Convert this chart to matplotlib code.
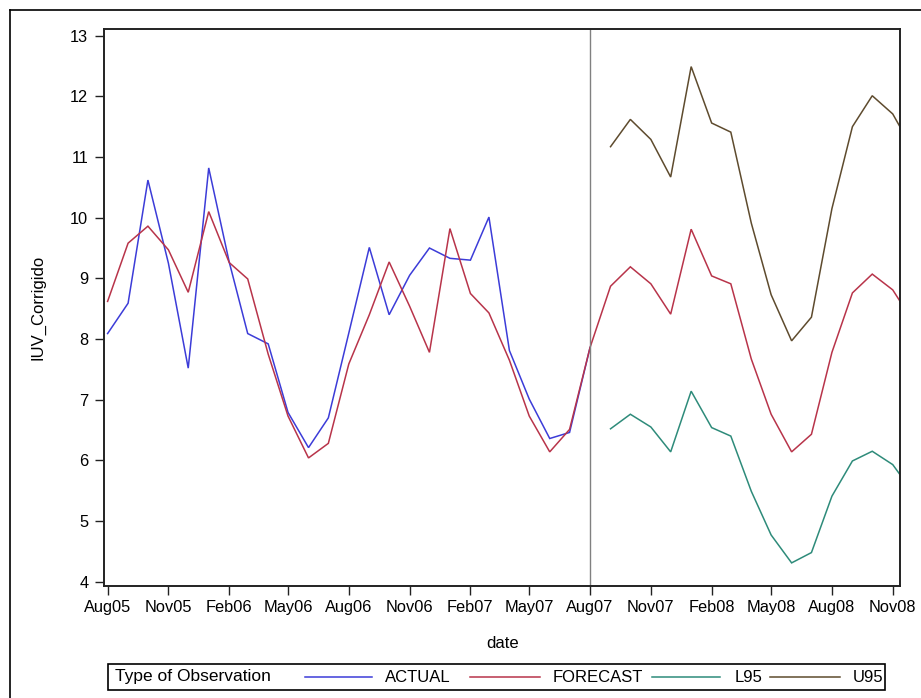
import matplotlib
matplotlib.use("Agg")
import matplotlib.pyplot as plt
import matplotlib.dates as mdates
from matplotlib.lines import Line2D
from matplotlib.patches import Rectangle
import pandas as pd
import numpy as np

plt.rcParams['font.family'] = ['Liberation Sans', 'DejaVu Sans']

# ---- data ----
months = pd.date_range("2005-08-01", "2008-12-01", freq="MS")
actual = [8.09, 8.59, 10.62, 9.25, 7.52, 10.82, 9.27, 8.09, 7.92, 6.79, 6.21, 6.70,
          8.10, 9.51, 8.40, 9.05, 9.50, 9.33, 9.30, 10.01, 7.81, 7.01, 6.36, 6.46, 7.86]
forecast = [8.62, 9.58, 9.86, 9.47, 8.77, 10.10, 9.26, 8.99, 7.75, 6.73, 6.04, 6.28,
            7.59, 8.40, 9.27, 8.54, 7.78, 9.82, 8.75, 8.43, 7.65, 6.73, 6.14, 6.51, 7.86,
            8.87, 9.19, 8.91, 8.41, 9.81, 9.04, 8.91, 7.67, 6.76, 6.14, 6.43, 7.78,
            8.76, 9.07, 8.81, 8.30]
l95 = [6.52, 6.76, 6.55, 6.14, 7.14, 6.54, 6.40, 5.49, 4.77, 4.31, 4.48, 5.41,
       5.99, 6.15, 5.93, 5.48]
u95 = [11.17, 11.62, 11.29, 10.67, 12.49, 11.56, 11.41, 9.91, 8.73, 7.97, 8.36, 10.15,
       11.50, 12.01, 11.71, 11.13]
series_names = ["ACTUAL", "FORECAST", "L95", "U95"]
colors = ["#3c3cd8", "#b8344a", "#2e8b7a", "#5e4b2e"]
yticks = [4, 5, 6, 7, 8, 9, 10, 11, 12, 13]
xtick_dates = pd.date_range("2005-08-01", "2008-11-01", freq="3MS")
forecast_start = pd.Timestamp("2007-08-01")
legend_title = "Type of Observation"

W, H = 921, 698
fig = plt.figure(figsize=(W / 100, H / 100), dpi=100)

def fx(x):
    return x / W

def fy(y):
    return 1 - y / H

L, R, T, B = 104.3, 900.0, 29.3, 585.7
ax = fig.add_axes([fx(L), fy(B), (R - L) / W, (B - T) / H])

n_act = len(actual)
n_f = len(forecast)
ax.plot(months[:n_act], actual, color=colors[0], lw=1.1, solid_joinstyle='miter')
ax.plot(months[:n_f], forecast, color=colors[1], lw=1.1, solid_joinstyle='miter')
ax.plot(months[n_f - len(l95):n_f], l95, color=colors[2], lw=1.1, solid_joinstyle='miter')
ax.plot(months[n_f - len(u95):n_f], u95, color=colors[3], lw=1.1, solid_joinstyle='miter')
ax.axvline(forecast_start, color="#808080", lw=1.0)

ax.set_xlim(pd.Timestamp("2005-07-27"), pd.Timestamp("2008-11-12"))
ax.set_ylim(3.934, 13.105)
ax.set_yticks(yticks)
ax.set_xticks(xtick_dates)
ax.xaxis.set_major_formatter(mdates.DateFormatter("%b%y"))

for s in ax.spines.values():
    s.set_linewidth(1.4)
    s.set_color("#222222")

ax.tick_params(axis='both', direction='out', length=6.5, width=1.0, labelsize=11.8,
               colors="#222222", labelcolor="black")
ax.tick_params(axis='x', pad=3.5)
ax.tick_params(axis='y', pad=5.0)

ax.set_xlabel("date", fontsize=12)
ax.set_ylabel("IUV_Corrigido", fontsize=12)
ax.xaxis.set_label_coords(0.5, -(643 - B) / (B - T))
ax.xaxis.label.set_va('center')
ax.yaxis.set_label_coords((38 - L) / (R - L), 0.5)
ax.yaxis.label.set_va('center')

# ---- outer border (partially visible) ----
fig.add_artist(Line2D([fx(10), fx(10)], [fy(10), fy(720)], color="black", lw=1.2,
                      transform=fig.transFigure))
fig.add_artist(Line2D([fx(10), fx(940)], [fy(10), fy(10)], color="black", lw=1.2,
                      transform=fig.transFigure))

# ---- legend ----
lx0, lx1, ly0, ly1 = 108, 885, 664, 690
fig.add_artist(Rectangle((fx(lx0), fy(ly1)), (lx1 - lx0) / W, (ly1 - ly0) / H,
                         fill=False, edgecolor="black", lw=1.2, transform=fig.transFigure))
ymid = fy((ly0 + ly1) / 2)
fig.text(fx(115), ymid, legend_title, fontsize=12.5, va='center', ha='left')
seg_x = [(305, 372), (470, 540), (652, 720), (770, 840)]
lab_x = [385, 553, 735, 853]
for (a, b), lxp, name, c in zip(seg_x, lab_x, series_names, colors):
    fig.add_artist(Line2D([fx(a), fx(b)], [ymid, ymid], color=c, lw=1.1,
                          transform=fig.transFigure))
    fig.text(fx(lxp), ymid, name, fontsize=12, va='center', ha='left')

fig.savefig("out.png", dpi=100)
